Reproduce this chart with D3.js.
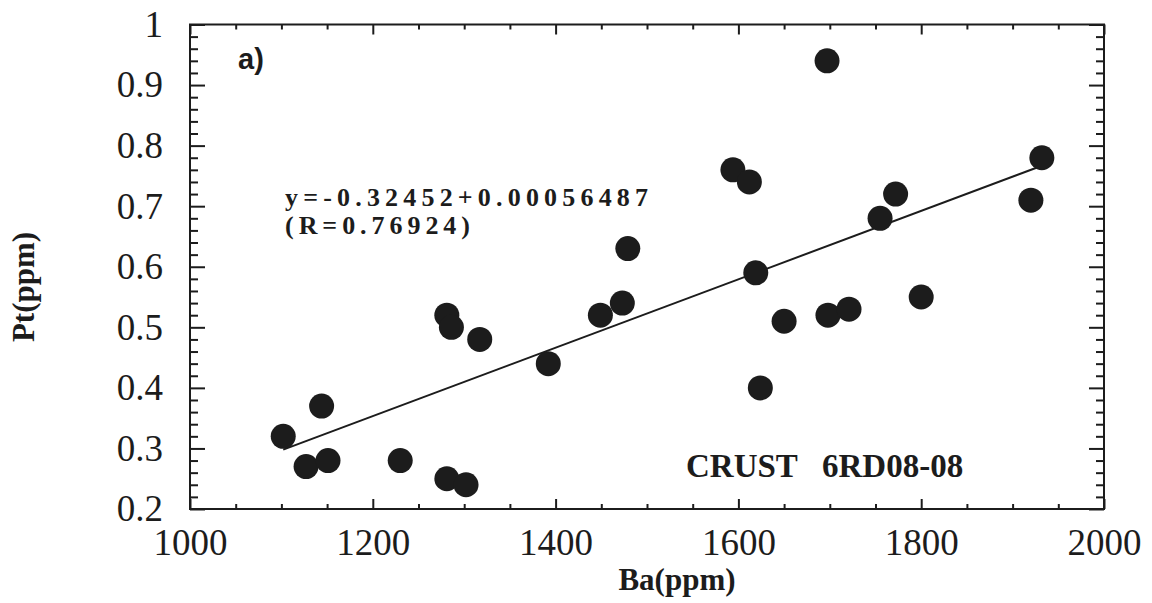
<!DOCTYPE html>
<html>
<head>
<meta charset="utf-8">
<script src="https://cdn.jsdelivr.net/npm/d3@7"></script>
<style>
  html, body { margin: 0; padding: 0; background: #fff; }
  svg { display: block; }
</style>
</head>
<body>
<svg id="chart" width="1152" height="603"></svg>
<script>
// Ba (ppm) vs Pt (ppm) measurements, crust sample 6RD08-08
const ba = [1102, 1127, 1151, 1144, 1230, 1281, 1302, 1281, 1286, 1317,
            1392, 1449, 1473, 1479, 1594, 1612, 1619, 1624, 1650, 1697,
            1698, 1721, 1755, 1772, 1800, 1920, 1932];
const pt = [0.32, 0.27, 0.28, 0.37, 0.28, 0.25, 0.24, 0.52, 0.50, 0.48,
            0.44, 0.52, 0.54, 0.63, 0.76, 0.74, 0.59, 0.40, 0.51, 0.94,
            0.52, 0.53, 0.68, 0.72, 0.55, 0.71, 0.78];

// Linear fit reported on the chart
const intercept = -0.32452;
const slope = 0.00056487;
const rValue = 0.76924;

const xTicks = [1000, 1200, 1400, 1600, 1800, 2000];
const yTicks = [0.2, 0.3, 0.4, 0.5, 0.6, 0.7, 0.8, 0.9, 1];

const svg = d3.select("#chart");
const plotLeft = 190, plotRight = 1104, plotTop = 24.5, plotBottom = 509;

const x = d3.scaleLinear().domain([1000, 2000]).range([plotLeft, plotRight]);
const y = d3.scaleLinear().domain([0.2, 1]).range([plotBottom, plotTop]);

const ink = "#1c1c1c";
const serif = "'Liberation Serif', 'Times New Roman', serif";

// Minor tick positions
const xMinor = d3.range(1000, 2001, 50).filter(v => v % 200 !== 0);
const yMinor = d3.range(0, 41).map(i => +(0.2 + i * 0.02).toFixed(2))
  .filter(v => Math.abs(v * 10 - Math.round(v * 10)) > 1e-6);

function styleAxis(g) {
  g.select(".domain").remove();
  g.selectAll("line").attr("stroke", ink).attr("stroke-width", 2);
}

// Bottom axis: inward ticks with labels below
const gBottom = svg.append("g").attr("transform", `translate(0,${plotBottom})`)
  .call(d3.axisBottom(x).tickValues(xTicks).tickSize(-10).tickPadding(20)
    .tickFormat(d3.format("d")));
styleAxis(gBottom);
gBottom.selectAll("text").attr("font-family", serif).attr("font-size", 37)
  .attr("fill", ink);
svg.append("g").attr("transform", `translate(0,${plotBottom})`)
  .call(d3.axisBottom(x).tickValues(xMinor).tickSize(-5).tickFormat(""))
  .call(styleAxis);

// Top axis: inward ticks, no labels
svg.append("g").attr("transform", `translate(0,${plotTop})`)
  .call(d3.axisTop(x).tickValues(xTicks).tickSize(-10).tickFormat(""))
  .call(styleAxis);
svg.append("g").attr("transform", `translate(0,${plotTop})`)
  .call(d3.axisTop(x).tickValues(xMinor).tickSize(-5).tickFormat(""))
  .call(styleAxis);

// Left axis
const gLeft = svg.append("g").attr("transform", `translate(${plotLeft},0)`)
  .call(d3.axisLeft(y).tickValues(yTicks).tickSize(-15).tickPadding(27)
    .tickFormat(d => d === 1 ? "1" : d3.format(".1f")(d)));
styleAxis(gLeft);
gLeft.selectAll("text").attr("font-family", serif).attr("font-size", 37)
  .attr("fill", ink);
svg.append("g").attr("transform", `translate(${plotLeft},0)`)
  .call(d3.axisLeft(y).tickValues(yMinor).tickSize(-8).tickFormat(""))
  .call(styleAxis);

// Right axis
svg.append("g").attr("transform", `translate(${plotRight},0)`)
  .call(d3.axisRight(y).tickValues(yTicks).tickSize(-15).tickFormat(""))
  .call(styleAxis);
svg.append("g").attr("transform", `translate(${plotRight},0)`)
  .call(d3.axisRight(y).tickValues(yMinor).tickSize(-8).tickFormat(""))
  .call(styleAxis);

// Plot frame
svg.append("rect")
  .attr("x", plotLeft).attr("y", plotTop)
  .attr("width", plotRight - plotLeft).attr("height", plotBottom - plotTop)
  .attr("fill", "none").attr("stroke", ink).attr("stroke-width", 2);

// Regression line over the data range
const [bMin, bMax] = d3.extent(ba);
svg.append("line")
  .attr("x1", x(bMin)).attr("y1", y(intercept + slope * bMin))
  .attr("x2", x(bMax)).attr("y2", y(intercept + slope * bMax))
  .attr("stroke", ink).attr("stroke-width", 2);

// Data points
svg.append("g").selectAll("circle")
  .data(ba.map((b, i) => [b, pt[i]]))
  .join("circle")
  .attr("cx", d => x(d[0]))
  .attr("cy", d => y(d[1]))
  .attr("r", 12.5)
  .attr("fill", ink);

// Panel label
svg.append("text").attr("x", 238).attr("y", 69)
  .attr("font-family", "'Liberation Sans', Arial, sans-serif")
  .attr("font-weight", "bold").attr("font-size", 29).attr("fill", ink)
  .text("a)");

// Fit equation
svg.append("text").attr("x", 285).attr("y", 206)
  .attr("font-family", serif).attr("font-weight", "bold")
  .attr("font-size", 26).attr("fill", ink)
  .attr("textLength", 363).attr("lengthAdjust", "spacing")
  .text(`y=${intercept}+${slope}`);
svg.append("text").attr("x", 285).attr("y", 234)
  .attr("font-family", serif).attr("font-weight", "bold")
  .attr("font-size", 26).attr("fill", ink)
  .attr("textLength", 185).attr("lengthAdjust", "spacing")
  .text(`(R=${rValue})`);

// Sample label
svg.append("text").attr("x", 686).attr("y", 477)
  .attr("font-family", serif).attr("font-weight", "bold")
  .attr("font-size", 33).attr("fill", ink)
  .text("CRUST");
svg.append("text").attr("x", 822).attr("y", 477)
  .attr("font-family", serif).attr("font-weight", "bold")
  .attr("font-size", 33).attr("fill", ink)
  .text("6RD08-08");

// Axis titles
svg.append("text").attr("x", 677).attr("y", 590)
  .attr("text-anchor", "middle")
  .attr("font-family", serif).attr("font-weight", "bold")
  .attr("font-size", 31).attr("fill", ink)
  .text("Ba(ppm)");
svg.append("text")
  .attr("transform", "translate(34,287) rotate(-90)")
  .attr("text-anchor", "middle")
  .attr("font-family", serif).attr("font-weight", "bold")
  .attr("font-size", 31).attr("fill", ink)
  .text("Pt(ppm)");
</script>
</body>
</html>
